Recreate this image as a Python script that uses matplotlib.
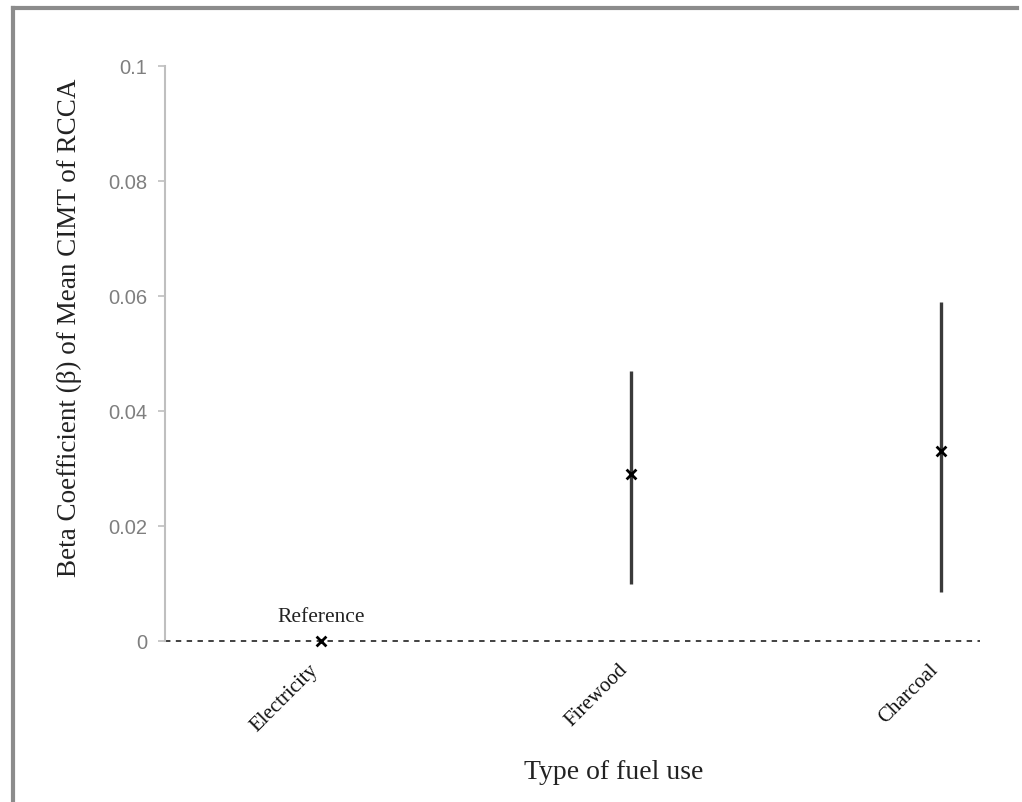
import matplotlib
matplotlib.use('Agg')
import matplotlib.pyplot as plt
import matplotlib.transforms as mtransforms
from matplotlib.lines import Line2D

# Data
fuels = ['Electricity', 'Firewood', 'Charcoal']
beta = [0.0, 0.029, 0.033]
ci_low = [None, 0.010, 0.0085]
ci_high = [None, 0.047, 0.059]
y_ticks = [0, 0.02, 0.04, 0.06, 0.08, 0.1]
y_tick_labels = ['0', '0.02', '0.04', '0.06', '0.08', '0.1']

serif = ['Liberation Serif', 'DejaVu Serif']
sans = ['Liberation Sans', 'DejaVu Sans']

fig = plt.figure(figsize=(10.22, 8.02), dpi=100, facecolor='white')
ax = fig.add_axes([0.1614, 0.2007, 0.7976, 0.717])

x = [1, 2, 3]

# confidence intervals
for xi, lo, hi in zip(x, ci_low, ci_high):
    if lo is None:
        continue
    ax.plot([xi, xi], [lo, hi], color='#3a3a3a', lw=2.4, solid_capstyle='butt', zorder=2)

# point estimates
ax.scatter(x, beta, marker='x', s=50, color='black', linewidths=2.0, zorder=3, clip_on=False)

# dashed reference line at zero
ax.axhline(0, color='#333333', lw=1.3, ls=(0, (3, 3)), zorder=1, clip_on=False)

ax.text(x[0], 0.0025, 'Reference', ha='center', va='bottom', fontsize=15.5,
        family=serif, color='#222222')

ax.set_xlim(0.497, 3.126)
ax.set_ylim(0, 0.1)

ax.set_yticks(y_ticks)
ax.set_yticklabels(y_tick_labels, family=sans, fontsize=14.5, color='#7f7f7f')
ax.tick_params(axis='y', direction='out', length=5, width=1.2, color='#bfbfbf', pad=8)

ax.set_xticks(x)
ax.set_xticklabels(fuels, rotation=45, ha='right', va='center', rotation_mode='anchor',
                   family=serif, fontsize=15, color='#111111')
ax.tick_params(axis='x', length=0, pad=19)
shift = mtransforms.ScaledTranslation(-6 / 100, 0, fig.dpi_scale_trans)
for lbl in ax.get_xticklabels():
    lbl.set_transform(lbl.get_transform() + shift)

for s in ['top', 'right', 'bottom']:
    ax.spines[s].set_visible(False)
ax.spines['left'].set_color('#bfbfbf')
ax.spines['left'].set_linewidth(1.5)

ax.set_ylabel('Beta Coefficient (\u03b2) of Mean CIMT of RCCA', family=serif,
              fontsize=19.5, color='#222222')
ax.yaxis.set_label_coords(-0.102, 0.545)
ax.set_xlabel('Type of fuel use', family=serif, fontsize=20, color='#222222')
ax.xaxis.set_label_coords(0.551, -0.207)

# outer frame (left and top edges)
fig.add_artist(Line2D([13 / 1022, 13 / 1022], [0, 1 - 8 / 802], transform=fig.transFigure,
                      color='#8c8c8c', lw=3))
fig.add_artist(Line2D([13 / 1022, 1017 / 1022], [1 - 8 / 802, 1 - 8 / 802], transform=fig.transFigure,
                      color='#8c8c8c', lw=3))

fig.savefig('out.png', dpi=100)
